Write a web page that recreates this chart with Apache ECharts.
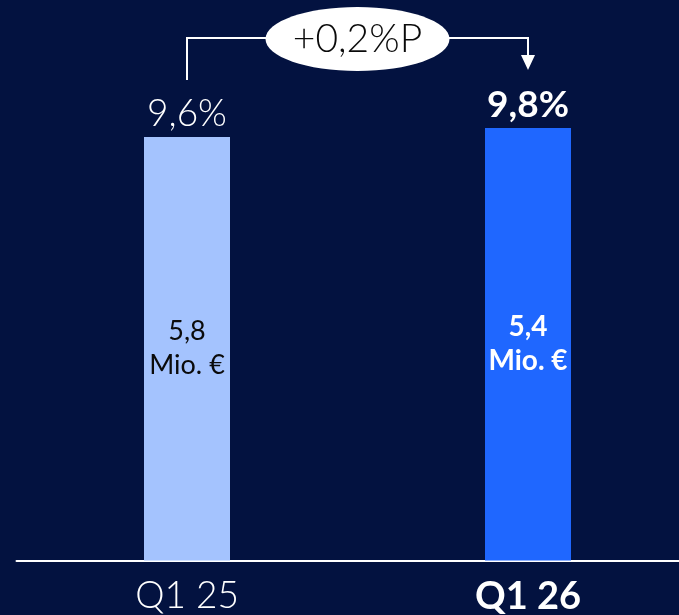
<!DOCTYPE html>
<html><head><meta charset="utf-8">
<script src="https://cdn.jsdelivr.net/npm/echarts@6/dist/echarts.min.js"></script>
<style>html,body{margin:0;padding:0;background:#031240;}#c{width:679px;height:615px;}</style>
</head><body><div id="c"></div>
<script>
const categories = ['Q1 25', 'Q1 26'];
const marginPct = [9.6, 9.8];
const marginLabels = ['9,6%', '9,8%'];
const ebitLabels = ['5,8\nMio. €', '5,4\nMio. €'];
const deltaLabel = '+0,2%P';

const FONT = 'Lato, "Open Sans", sans-serif';
const chart = echarts.init(document.getElementById('c'), null, {renderer: 'canvas'});
const barColors = ['#a4c3fe', '#1f67ff'];
const insideColors = ['#0a0a0a', '#ffffff'];
const bold = [false, true];

chart.setOption({
  backgroundColor: '#031240',
  animation: false,
  grid: {left: 16.5, width: 682, top: 31, bottom: 54.5, containLabel: false, outerBoundsMode: 'none'},
  xAxis: {
    type: 'category', data: categories,
    axisLine: {lineStyle: {color: '#ffffff', width: 2}},
    axisTick: {show: false},
    axisLabel: {
      margin: 17,
      formatter: (v, i) => i === 1 ? '{b|' + v + '}' : '{n|' + v + '}',
      rich: {
        n: {color: '#ffffff', fontSize: 37, fontWeight: 300, fontFamily: FONT},
        b: {color: '#ffffff', fontSize: 38, fontWeight: 'bold', fontFamily: FONT}
      }
    }
  },
  yAxis: {type: 'value', min: 0, max: 12, show: false, splitLine: {show: false}},
  series: [{
    type: 'bar', barWidth: 86,
    data: marginPct.map((v, i) => ({
      value: v,
      itemStyle: {color: barColors[i]},
      label: {
        show: true, position: 'inside',
        formatter: ebitLabels[i],
        color: insideColors[i], fontSize: bold[i] ? 28 : 27, lineHeight: 34,
        fontWeight: bold[i] ? 'bold' : 'normal', fontFamily: FONT
      }
    })),
    markPoint: {
      symbol: 'rect', symbolSize: 1, itemStyle: {color: 'transparent'},
      data: marginPct.map((v, i) => ({
        coord: [i, v], value: v,
        label: {
          show: true, position: 'top', distance: 4,
          formatter: marginLabels[i], color: '#ffffff', fontSize: 37,
          fontWeight: bold[i] ? 'bold' : 300, fontFamily: FONT
        }
      }))
    }
  }]
});

function drawBracket() {
  const p1 = chart.convertToPixel({gridIndex: 0}, [0, marginPct[0]]);
  const p2 = chart.convertToPixel({gridIndex: 0}, [1, marginPct[1]]);
  const yBr = p2[1] - 90;
  const yL = p1[1] - 57;
  const tipY = p2[1] - 58;
  const midX = (p1[0] + p2[0]) / 2;
  const lineStyle = {stroke: '#ffffff', lineWidth: 2, fill: null};
  chart.setOption({
    graphic: [
      {type: 'polyline', shape: {points: [[p1[0], yL], [p1[0], yBr], [p2[0], yBr], [p2[0], tipY - 14]]}, style: lineStyle, silent: true},
      {type: 'polygon', shape: {points: [[p2[0] - 7, tipY - 15], [p2[0] + 7, tipY - 15], [p2[0], tipY]]}, style: {fill: '#ffffff'}, silent: true},
      {type: 'ellipse', shape: {cx: midX, cy: yBr + 1, rx: 92, ry: 32}, style: {fill: '#ffffff'}, silent: true},
      {type: 'text', x: midX, y: yBr + 1, style: {text: deltaLabel, fill: '#0a0a0a', font: '300 39px ' + FONT, align: 'center', verticalAlign: 'middle'}, silent: true}
    ]
  });
}
drawBracket();
</script></body></html>
